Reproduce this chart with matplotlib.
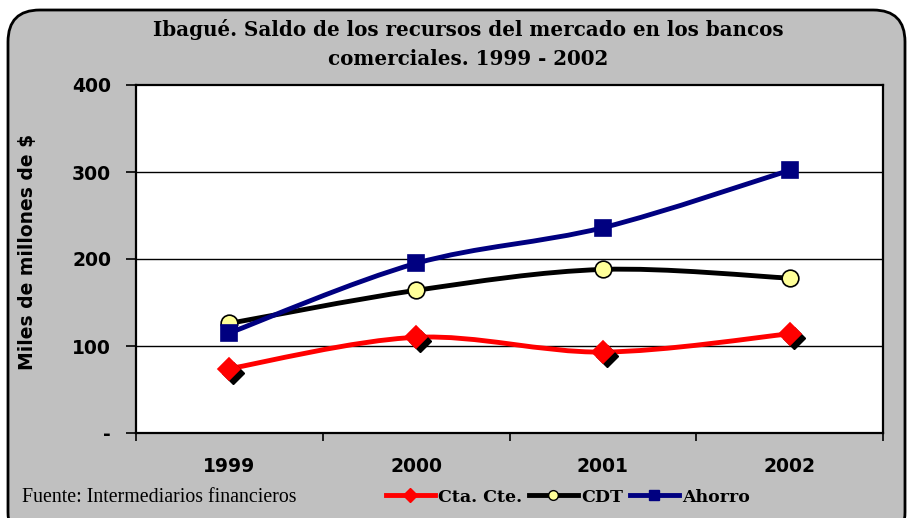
import numpy as np
import matplotlib
matplotlib.use('Agg')
import matplotlib.pyplot as plt
from matplotlib.path import Path
from matplotlib.patches import PathPatch, FancyBboxPatch
from matplotlib.lines import Line2D
import matplotlib.transforms as mtransforms

years = ['1999', '2000', '2001', '2002']
cta_cte = [74, 110, 93, 114]
cdt = [126, 164, 188, 178]
ahorro = [115, 195, 236, 302]
yticks = [0, 100, 200, 300, 400]
ylabels = ['-', '100', '200', '300', '400']

title = 'Ibagué. Saldo de los recursos del mercado en los bancos\ncomerciales. 1999 - 2002'
source = 'Fuente: Intermediarios financieros'


def smooth_path(x, y):
    # excel-like smoothed line: bezier segments, catmull-rom control points
    p = np.column_stack([x, y]).astype(float)
    pts = np.vstack([p[0], p, p[-1]])
    verts = [tuple(p[0])]
    codes = [Path.MOVETO]
    for i in range(1, len(pts) - 2):
        p0, p1, p2, p3 = pts[i - 1], pts[i], pts[i + 1], pts[i + 2]
        c1 = p1 + (p2 - p0) / 6.0
        c2 = p2 - (p3 - p1) / 6.0
        verts += [tuple(c1), tuple(c2), tuple(p2)]
        codes += [Path.CURVE4] * 3
    return Path(verts, codes)


fig = plt.figure(figsize=(9.09, 5.18), dpi=100, facecolor='white')
bg = FancyBboxPatch((8 / 909, -0.05), 897 / 909, 1.05 - 10 / 518,
                    boxstyle='round,pad=0,rounding_size=0.035',
                    mutation_aspect=909 / 518,
                    transform=fig.transFigure, facecolor='#C0C0C0',
                    edgecolor='black', lw=2, zorder=-5)
fig.patches.append(bg)

ax = fig.add_axes([136 / 909, 1 - 433 / 518, 747 / 909, 348 / 518])
ax.set_zorder(2)
ax.set_facecolor('white')
x = np.arange(len(years))

for v in [100, 200, 300]:
    ax.axhline(v, color='black', lw=1, zorder=1)

series = [
    (cta_cte, 'red', 'D', 'red', 'Cta. Cte.', 11),
    (cdt, 'black', 'o', '#FFFF99', 'CDT', 12),
    (ahorro, '#000080', 's', '#000080', 'Ahorro', 12),
]

shadow = mtransforms.offset_copy(ax.transData, fig=fig, x=4, y=-4, units='dots')
handles = []
for i, (vals, col, mk, fc, name, ms) in enumerate(series):
    ax.add_patch(PathPatch(smooth_path(x, vals), fill=False, edgecolor=col,
                           lw=3.5, capstyle='round', zorder=3 + i))
    if mk == 'D':
        ax.plot(x, vals, ls='none', marker='D', ms=ms, mfc='black', mec='black',
                transform=shadow, zorder=3 + i, clip_on=False)
    ax.plot(x, vals, ls='none', marker=mk, ms=ms, mfc=fc,
            mec='black' if mk == 'o' else col, mew=1.2, zorder=3.5 + i, clip_on=False)
    handles.append(Line2D([], [], color=col, lw=3.5, marker=mk, ms=7,
                          mfc=fc, mec='black' if mk == 'o' else col, label=name))

ax.set_xlim(-0.5, 3.5)
ax.set_ylim(0, 400)
ax.set_yticks(yticks)
ax.set_yticklabels(ylabels)
ax.set_xticks(x)
ax.set_xticklabels(years)
ax.set_xticks(np.arange(-0.5, 4, 1), minor=True)
ax.tick_params(axis='x', which='major', length=0, pad=17)
ax.tick_params(axis='x', which='minor', length=6, width=1.2, direction='out')
ax.tick_params(axis='y', length=7, width=1.2, direction='out', pad=11)
for lab in ax.get_xticklabels() + ax.get_yticklabels():
    lab.set_fontfamily('DejaVu Sans')
    lab.set_fontweight('bold')
    lab.set_fontsize(13.5)
for s in ax.spines.values():
    s.set_linewidth(1.6)
    s.set_color('black')

ax.set_ylabel('Miles de millones de $', fontfamily='DejaVu Sans', fontweight='bold', fontsize=13.5)
ax.yaxis.set_label_coords(-0.132, 0.52)

fig.text(0.515, 0.915, title, ha='center', va='center', fontfamily='DejaVu Serif',
         fontweight='bold', fontsize=14.3, linespacing=1.6)
fig.text(22 / 909, 1 - 498 / 518, source, ha='left', va='center',
         fontfamily='Liberation Serif', fontsize=14.3)

leg = fig.legend(handles=handles, loc='center', bbox_to_anchor=(568 / 909, 1 - 497 / 518),
                 ncol=3, frameon=False, handlelength=2.8, handletextpad=0.2,
                 columnspacing=0.4, prop={'family': 'DejaVu Serif', 'weight': 'bold', 'size': 12.5})

fig.savefig('out.png', dpi=100, facecolor='white')
